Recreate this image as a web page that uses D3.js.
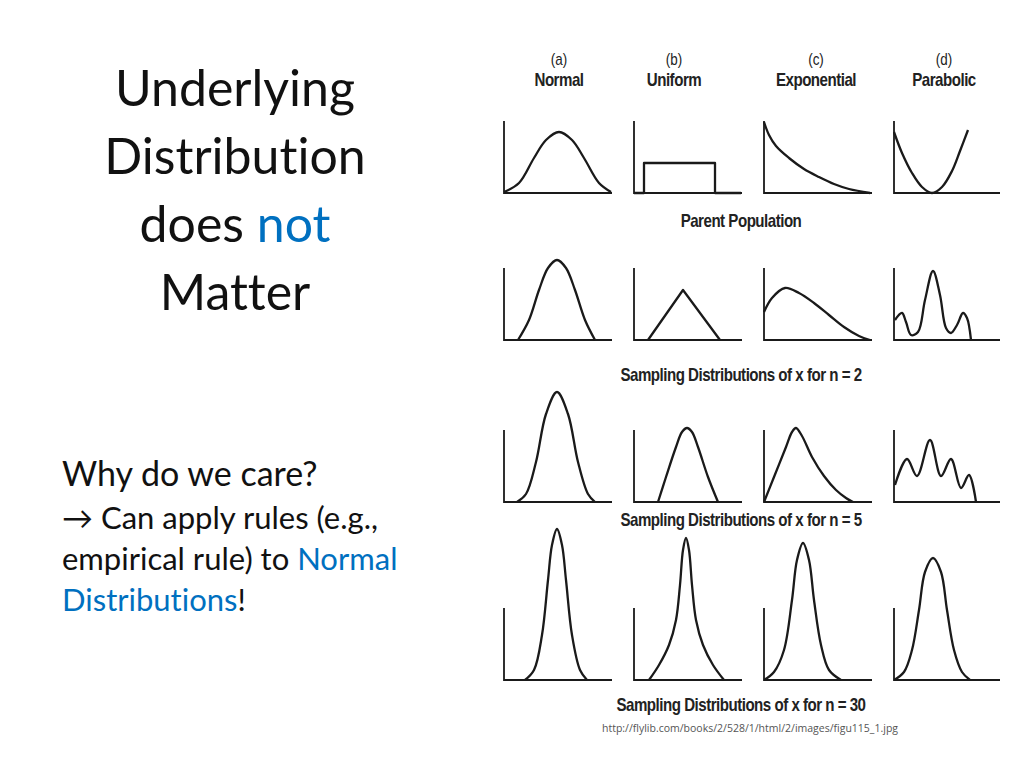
<!DOCTYPE html>
<html><head><meta charset="utf-8">
<script src="https://cdn.jsdelivr.net/npm/d3@7"></script>
<style>body{margin:0;background:#fff} text{font-variant-ligatures:none}</style>
</head><body>
<svg id="slide" width="1024" height="768"></svg>
<script>
// column headers and row captions
const columns = [["(a)", "Normal"], ["(b)", "Uniform"], ["(c)", "Exponential"], ["(d)", "Parabolic"]];
const rowCaptions = ["Parent Population", "Sampling Distributions of x for n = 2",
                     "Sampling Distributions of x for n = 5", "Sampling Distributions of x for n = 30"];

// curves: [x across panel (px), height above baseline (px)]
const parent = [
  [[0,1],[15,10],[30,35],[42,53],[55,61],[68,53],[80,35],[95,10],[107,1]],
  [[0,0],[10,0],[10,30],[81,30],[81,0],[107,0]],
  [[0,71],[5,58],[12,47],[25,35],[40,24],[55,16],[70,9],[85,4],[106,0]],
  [[0,61],[8,40],[18,20],[28,6],[38,0],[48,6],[58,22],[66,42],[74,63]]
];
const n2 = [
  [[14,0],[25,20],[35,50],[44,72],[53,80],[62,72],[71,50],[81,20],[91,0]],
  [[14,0],[49,50],[86,0]],
  [[0,28],[8,42],[21,52],[35,47],[50,37],[65,25],[80,13],[95,4],[106,0]],
  [[1,20],[8,27],[12,18],[17,5],[24,8],[31,40],[39,69],[46,45],[52,12],[57,7],[63,15],[69,27],[73,22],[77,0]]
];
const n5 = [
  [[13,0],[22,8],[32,40],[42,88],[53,110],[64,88],[74,40],[84,8],[91,0]],
  [[24,0],[32,25],[42,55],[48,70],[53,74],[58,70],[64,55],[74,25],[84,0]],
  [[0,0],[10,25],[22,55],[28,70],[32,74],[38,66],[48,45],[60,26],[72,12],[82,4],[89,0]],
  [[1,17],[13,43],[23,26],[36,62],[47,26],[57,43],[67,14],[75,27],[82,0]]
];
const n30 = [
  [[21,0],[30,10],[38,45],[44,100],[48,135],[53,151],[58,135],[62,100],[68,45],[76,10],[83,0]],
  [[15,0],[25,15],[35,35],[42,60],[46,95],[49,130],[52,142],[55,130],[58,95],[62,60],[69,35],[79,15],[90,0]],
  [[0,0],[10,8],[20,30],[28,80],[33,120],[39,137],[45,120],[50,80],[57,35],[65,10],[77,0]],
  [[0,0],[10,8],[18,30],[25,70],[31,108],[39,122],[47,108],[53,70],[60,30],[68,8],[76,0]]
];
const rows = [parent, n2, n5, n30];
const linearPanels = [[0,1],[1,1]]; // uniform box and triangle are straight lines

const svg = d3.select("#slide");
const ink = "#1a1a1a";

// left-hand text
const title = svg.append("text").attr("font-family", "Lato, 'Noto Sans', sans-serif")
  .attr("font-size", 50).attr("text-anchor", "middle").attr("fill", "#111");
[["Underlying"], ["Distribution"], ["does ", "not"], ["Matter"]].forEach((parts, i) => {
  const t = title.append("tspan").attr("x", 235).attr("y", 106 + i * 68);
  parts.forEach((p, j) => {
    (j === 0 ? t : title.append("tspan")).text(p).attr("fill", j === 1 ? "#0070c0" : "#111");
  });
});
const body = svg.append("text").attr("font-family", "Lato, 'Noto Sans', sans-serif").attr("fill", "#111");
body.append("tspan").attr("x", 62).attr("y", 486).attr("font-size", 34).text("Why do we care?");
body.append("tspan").attr("x", 62).attr("y", 529).attr("font-size", 31).text("\u2192 Can apply rules (e.g.,");
body.append("tspan").attr("x", 62).attr("y", 570).attr("font-size", 31).text("empirical rule) to ");
body.append("tspan").attr("font-size", 31).attr("fill", "#0070c0").text("Normal");
body.append("tspan").attr("x", 62).attr("y", 611).attr("font-size", 31).attr("fill", "#0070c0").text("Distributions");
body.append("tspan").attr("font-size", 31).text("!");

// figure grid
const colX = d3.scaleOrdinal().domain([0,1,2,3]).range([504, 634, 764, 894]);
const baselines = [193, 340, 502, 680];
const panelW = 106, axisH = 72;
const x = d3.scaleLinear().domain([0, 106]).range([0, panelW]);
const y = d3.scaleLinear().domain([0, 160]).range([0, -160]);

const fig = svg.append("g").attr("font-family", "'Liberation Sans', Arial, sans-serif")
  .attr("font-weight", "bold").attr("fill", "#222").attr("text-anchor", "middle");
const squeeze = cx => `translate(${cx},0) scale(0.84,1) translate(${-cx},0)`;
const headCenters = [559, 674, 816, 944];
columns.forEach((c, i) => {
  fig.append("text").attr("x", headCenters[i]).attr("y", 65).attr("font-size", 16)
    .attr("font-weight", "normal").attr("transform", squeeze(headCenters[i])).text(c[0]);
  fig.append("text").attr("x", headCenters[i]).attr("y", 86).attr("font-size", 18).attr("letter-spacing", -0.6)
    .attr("transform", squeeze(headCenters[i])).text(c[1]);
});
const capY = [227, 381, 526, 711];
rowCaptions.forEach((t, i) => {
  fig.append("text").attr("x", 741).attr("y", capY[i]).attr("font-size", 18).attr("letter-spacing", -0.6)
    .attr("transform", squeeze(741)).text(t);
});

const smooth = d3.line().x(d => x(d[0])).y(d => y(d[1])).curve(d3.curveCatmullRom.alpha(0.5));
const straight = d3.line().x(d => x(d[0])).y(d => y(d[1]));
rows.forEach((row, r) => {
  row.forEach((pts, c) => {
    const g = fig.append("g").attr("transform", `translate(${colX(c)},${baselines[r]})`);
    g.append("path").attr("d", `M0,${-axisH}V0H${panelW + (c === 3 ? 0 : 2)}`)
      .attr("fill", "none").attr("stroke", ink).attr("stroke-width", 1.8);
    const isLinear = linearPanels.some(p => p[0] === r && p[1] === c);
    g.append("path").attr("d", (isLinear ? straight : smooth)(pts))
      .attr("fill", "none").attr("stroke", ink).attr("stroke-width", 2.3).attr("stroke-linejoin", "round");
  });
});

svg.append("text").attr("x", 750).attr("y", 732).attr("text-anchor", "middle")
  .attr("font-family", "'Open Sans', sans-serif").attr("font-size", 10.5).attr("fill", "#555")
  .text("http://flylib.com/books/2/528/1/html/2/images/figu115_1.jpg");
</script>
</body></html>
